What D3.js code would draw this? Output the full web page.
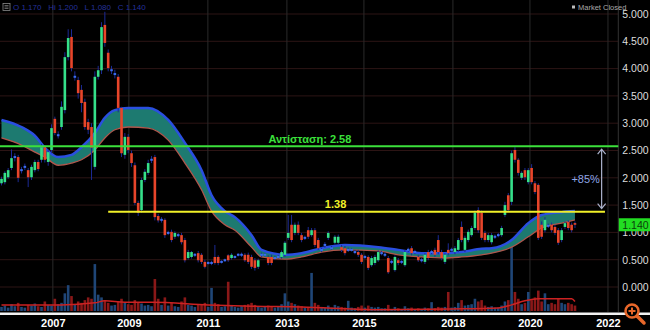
<!DOCTYPE html>
<html>
<head>
<meta charset="utf-8">
<script src="https://cdn.jsdelivr.net/npm/d3@7"></script>
<style>
  body { margin: 0; background: #000; }
  svg { display: block; font-family: "Liberation Sans", Arial, sans-serif; }
</style>
</head>
<body>
<div id="chart"></div>
<script>
// monthly candles, values in euro
const opens = [
  1.90,1.92,2.01,2.18,2.38,2.38,2.14,2.20,2.14,2.01,
  2.14,2.29,2.33,2.56,2.29,2.51,3.08,2.78,2.93,3.24,
  4.21,4.58,3.85,3.79,3.61,3.39,3.02,2.93,2.20,3.85,
  3.97,4.80,4.29,3.97,3.90,3.85,3.28,2.42,2.75,2.45,
  2.23,1.54,1.41,1.96,2.09,2.33,2.38,1.30,1.23,1.23,
  0.99,1.01,0.92,0.95,0.95,0.86,0.53,0.55,0.59,0.62,
  0.59,0.46,0.44,0.44,0.55,0.55,0.46,0.49,0.58,0.53,
  0.55,0.59,0.59,0.59,0.59,0.55,0.49,0.37,0.59,0.59,
  0.55,0.55,0.53,0.55,0.55,0.59,0.90,1.14,0.99,1.14,
  0.95,0.90,1.04,0.95,1.04,0.86,0.68,0.77,0.90,0.71,
  0.81,0.81,0.73,0.71,0.68,0.68,0.64,0.64,0.59,0.55,
  0.55,0.40,0.44,0.49,0.62,0.59,0.53,0.46,0.31,0.49,
  0.46,0.40,0.68,0.71,0.64,0.55,0.49,0.46,0.64,0.64,
  0.68,0.86,0.64,0.46,0.68,0.68,0.64,0.68,1.10,0.68,
  0.86,0.95,1.08,1.41,1.36,0.99,0.86,0.82,0.92,0.95,
  0.95,1.32,1.68,1.56,2.51,2.33,2.00,2.14,1.92,2.18,
  1.90,1.87,1.14,1.04,1.12,1.14,1.10,1.04,0.86,1.10,
  1.19,1.14,1.17];
const highs = [
  2.02,2.12,2.18,2.52,2.45,2.42,2.20,2.26,2.18,2.24,
  2.33,2.33,2.62,2.60,2.52,2.98,3.12,2.85,3.40,4.30,
  4.72,4.72,3.95,3.85,3.70,3.45,3.08,3.00,3.95,4.05,
  4.85,5.04,4.35,4.05,3.98,3.90,3.30,2.82,2.80,2.50,
  2.28,1.58,2.00,2.16,2.33,2.40,2.42,1.34,1.28,1.26,
  1.03,1.05,1.02,0.99,0.99,0.90,0.68,0.66,0.62,0.66,
  0.62,0.50,0.47,0.48,0.77,0.58,0.49,0.52,0.60,0.62,
  0.58,0.62,0.63,0.62,0.63,0.59,0.53,0.52,0.63,0.62,
  0.58,0.59,0.57,0.58,0.67,0.84,1.32,1.32,1.18,1.20,
  0.99,0.94,1.10,1.08,1.08,0.90,0.72,0.82,1.02,0.75,
  0.95,0.96,0.77,0.75,0.72,0.71,0.68,0.68,0.62,0.59,
  0.58,0.57,0.59,0.67,0.66,0.63,0.57,0.50,0.58,0.53,
  0.49,0.68,0.72,0.75,0.68,0.59,0.53,0.62,0.68,0.68,
  0.72,0.95,0.68,0.62,0.80,0.72,0.75,0.90,1.20,0.94,
  1.05,1.12,1.40,1.46,1.40,1.03,0.99,0.99,0.96,0.99,
  1.12,1.56,1.72,2.50,2.56,2.36,2.12,2.18,2.18,2.25,
  1.94,1.90,1.20,1.28,1.16,1.18,1.14,1.08,1.08,1.20,
  1.22,1.18,1.20];
const lows = [
  1.86,1.88,1.98,2.14,2.30,1.92,2.08,2.14,1.83,1.96,
  2.10,2.12,2.28,2.28,2.22,2.45,2.78,2.72,2.88,3.18,
  4.15,3.95,3.78,3.45,3.20,2.88,2.80,1.96,2.15,3.80,
  3.90,4.40,3.95,3.90,3.82,3.20,2.38,2.35,2.45,2.20,
  1.50,1.30,1.36,1.92,2.05,2.27,1.22,1.18,1.18,0.90,
  0.95,0.82,0.88,0.91,0.78,0.45,0.50,0.52,0.55,0.45,
  0.42,0.34,0.41,0.40,0.41,0.40,0.43,0.46,0.46,0.50,
  0.52,0.56,0.55,0.46,0.42,0.33,0.30,0.33,0.55,0.56,
  0.40,0.40,0.50,0.52,0.52,0.55,0.86,0.82,0.95,0.95,
  0.82,0.86,0.88,0.92,0.73,0.68,0.64,0.72,0.86,0.68,
  0.78,0.78,0.64,0.58,0.64,0.65,0.60,0.55,0.42,0.51,
  0.31,0.37,0.40,0.46,0.58,0.55,0.24,0.42,0.28,0.40,
  0.42,0.37,0.64,0.58,0.60,0.46,0.45,0.42,0.49,0.60,
  0.55,0.60,0.49,0.42,0.58,0.64,0.60,0.64,0.82,0.64,
  0.82,0.92,1.04,0.99,0.86,0.82,0.82,0.78,0.88,0.91,
  0.92,1.28,1.38,1.50,2.28,2.04,1.96,1.96,1.88,1.88,
  1.70,0.86,0.88,1.00,1.08,1.00,0.95,0.77,0.82,1.06,
  1.04,1.00,1.08];
const closes = [
  1.98,2.09,2.14,2.36,2.38,2.00,2.14,2.20,2.01,2.20,
  2.29,2.16,2.56,2.33,2.47,2.91,2.82,2.78,3.30,4.21,
  4.56,4.01,3.85,3.55,3.37,2.93,2.88,2.55,3.85,3.97,
  4.76,4.47,4.01,3.97,3.90,3.28,2.45,2.75,2.51,2.27,
  1.54,1.36,1.96,2.11,2.27,2.33,1.28,1.22,1.23,0.95,
  0.99,0.86,0.99,0.95,0.82,0.49,0.64,0.64,0.59,0.49,
  0.46,0.37,0.44,0.44,0.44,0.44,0.46,0.49,0.49,0.59,
  0.55,0.59,0.59,0.49,0.46,0.37,0.35,0.49,0.59,0.59,
  0.44,0.44,0.53,0.55,0.64,0.81,0.99,0.86,1.14,0.99,
  0.86,0.90,0.92,1.04,0.77,0.71,0.68,0.77,0.99,0.71,
  0.92,0.92,0.68,0.62,0.68,0.68,0.64,0.59,0.46,0.55,
  0.35,0.53,0.55,0.64,0.62,0.59,0.27,0.46,0.55,0.44,
  0.46,0.64,0.68,0.62,0.64,0.49,0.49,0.59,0.53,0.64,
  0.59,0.64,0.53,0.59,0.62,0.68,0.71,0.86,0.86,0.90,
  1.01,1.08,1.36,1.04,0.90,0.86,0.95,0.95,0.92,0.95,
  1.08,1.50,1.41,2.45,2.33,2.09,2.09,2.01,2.14,1.92,
  1.74,0.90,0.92,1.23,1.12,1.04,0.99,0.81,1.04,1.17,
  1.08,1.04,1.14];
// volume, arbitrary units (no scale shown)
const volumes = [
  6,8,5,10,7,12,6,5,9,8, 11,7,6,14,9,8,18,10,12,26,
  38,22,10,14,12,16,20,18,69,24, 20,16,12,8,9,14,18,12,10,9,
  16,12,11,8,9,7,47,18,9,20, 8,12,7,6,14,20,9,8,6,10,
  9,12,6,34,12,10,6,7,43,8, 6,5,7,9,10,12,9,7,5,6,
  8,7,5,6,10,26,14,12,10,8, 7,5,6,56,12,9,6,5,8,5,
  9,7,6,5,15,5,4,6,8,5, 8,6,5,6,4,4,9,3,6,4,
  3,7,4,5,3,4,3,5,4,13, 4,6,5,6,28,5,6,12,16,8,
  9,10,18,14,16,8,6,7,5,5, 8,14,16,100,28,18,10,12,28,16,
  20,30,14,26,10,12,10,18,12,10, 12,10,8];

// moving-average band (sampled at candle index)
const maIdx   = [0,6,10,13,17,21,24,28,31,34,38,44,50,55,60,63,67,70,75,78,85,90,96,103,113,119,126,133,138,144,147,153,158,162,168,172];
const maUpper = [3.06,2.93,2.77,2.55,2.38,2.42,2.56,2.82,3.10,3.24,3.28,3.28,3.06,2.64,2.14,1.68,1.39,1.28,0.95,0.68,0.59,0.62,0.71,0.77,0.73,0.68,0.62,0.62,0.64,0.70,0.71,0.86,1.17,1.32,1.37,1.39];
const maLower = [2.73,2.60,2.47,2.38,2.23,2.27,2.33,2.51,2.73,2.88,2.93,2.91,2.69,2.27,1.78,1.39,1.14,1.04,0.73,0.55,0.51,0.55,0.64,0.68,0.66,0.59,0.55,0.53,0.55,0.59,0.62,0.73,0.92,1.08,1.17,1.23];
// volume moving average
const volMaIdx = [0,18,28,31,37,45,62,75,90,112,135,149,153,157,161,171,172];
const volMa    = [9,9,12,15,13,13,9,7,6,2,3,4.5,9,15,18,18,14];

const xTickLabels = ["2007","2009","2011","2013","2015","2018","2020","2022"];
const xTickIdx = [15.4, 38.2, 61.9, 85.6, 108.7, 135.4, 158.5, 181.9];
const yTicks = [0,0.5,1,1.5,2,2.5,3,3.5,4,4.5,5];

const resistance = 2.58, support = 1.38, lastPrice = 1.14;
const supportFrom = 32, supportTo = 181, arrowIdx = 180;
const legendText = "O 1.170   Hi 1.200   L 1.080   C 1.140";

const W = 650, H = 330;
const svg = d3.select("#chart").append("svg").attr("width", W).attr("height", H);
svg.append("rect").attr("width", W).attr("height", H).attr("fill", "#000");

const x = d3.scaleLinear().domain([0, 185]).range([1.5, 618.3]);
const y = d3.scaleLinear().domain([0, 5]).range([287, 14]);
const yVol = d3.scaleLinear().domain([0, 100]).range([311, 243]);
const plotRight = x(185);

// grid
svg.append("g").selectAll("line").data(yTicks).join("line")
  .attr("x1", 0).attr("x2", plotRight)
  .attr("y1", d => y(d)).attr("y2", d => y(d))
  .attr("stroke", "#2c1414").attr("stroke-width", 1);
svg.append("g").selectAll("line").data(xTickIdx).join("line")
  .attr("x1", d => x(d)).attr("x2", d => x(d))
  .attr("y1", 0).attr("y2", 312)
  .attr("stroke", "#2a2a2a").attr("stroke-width", 1);
svg.append("line").attr("x1", plotRight).attr("x2", plotRight)
  .attr("y1", 0).attr("y2", 312).attr("stroke", "#333").attr("stroke-width", 1);

const candles = opens.map((o, i) => ({i, o, h: highs[i], l: lows[i], c: closes[i], v: volumes[i]}));

// volume
svg.append("g").selectAll("rect").data(candles).join("rect")
  .attr("x", d => x(d.i) - 1.3).attr("width", 2.6)
  .attr("y", d => yVol(d.v)).attr("height", d => yVol(0) - yVol(d.v))
  .attr("fill", d => d.c >= d.o ? "#1f4677" : "#8a1818");
svg.append("path")
  .datum(volMaIdx.map((d, k) => [d, volMa[k]]))
  .attr("fill", "none").attr("stroke", "#cc2222").attr("stroke-width", 1.5)
  .attr("d", d3.line().x(d => x(d[0])).y(d => yVol(d[1])).curve(d3.curveMonotoneX));

// MA band
const band = maIdx.map((d, k) => ({i: d, u: maUpper[k], lo: maLower[k]}));
svg.append("path").datum(band)
  .attr("fill", "#1d7a70")
  .attr("d", d3.area().x(d => x(d.i)).y0(d => y(d.lo)).y1(d => y(d.u)).curve(d3.curveMonotoneX));
svg.append("path").datum(band)
  .attr("fill", "none").attr("stroke", "#b0564c").attr("stroke-width", 1.3)
  .attr("d", d3.line().x(d => x(d.i)).y(d => y(d.lo)).curve(d3.curveMonotoneX));
svg.append("path").datum(band)
  .attr("fill", "none").attr("stroke", "#2a4fe0").attr("stroke-width", 2.5)
  .attr("d", d3.line().x(d => x(d.i)).y(d => y(d.u)).curve(d3.curveMonotoneX));

// candles
const cg = svg.append("g");
cg.selectAll("line").data(candles).join("line")
  .attr("x1", d => x(d.i)).attr("x2", d => x(d.i))
  .attr("y1", d => y(d.h)).attr("y2", d => y(d.l))
  .attr("stroke", "#1c2a94").attr("stroke-width", 1);
cg.selectAll("rect").data(candles).join("rect")
  .attr("x", d => x(d.i) - 1.3).attr("width", 2.6)
  .attr("y", d => d.o === d.c ? y(d.c) - 1 : y(Math.max(d.o, d.c)))
  .attr("height", d => d.o === d.c ? 2 : Math.max(1.5, Math.abs(y(d.o) - y(d.c))))
  .attr("fill", d => d.o === d.c ? "#3a6cf0" : (d.c > d.o ? "#35e08a" : "#e8452a"));

// resistance / support
svg.append("line").attr("x1", 0).attr("x2", plotRight)
  .attr("y1", y(resistance)).attr("y2", y(resistance))
  .attr("stroke", "#3be03b").attr("stroke-width", 2);
svg.append("text").attr("x", x(92.5)).attr("y", y(resistance) - 3)
  .attr("text-anchor", "middle").attr("font-size", 11).attr("font-weight", "bold")
  .attr("fill", "#3be03b").text("Αντίσταση: " + resistance.toFixed(2));
svg.append("line").attr("x1", x(supportFrom)).attr("x2", x(supportTo))
  .attr("y1", y(support)).attr("y2", y(support))
  .attr("stroke", "#f0f028").attr("stroke-width", 2);
svg.append("text").attr("x", x(100.2)).attr("y", y(support) - 4)
  .attr("text-anchor", "middle").attr("font-size", 11).attr("font-weight", "bold")
  .attr("fill", "#f0f028").text(support.toFixed(2));

// % arrow
const ax = x(arrowIdx), aTop = y(resistance) + 3, aBot = y(support) - 3;
svg.append("path")
  .attr("d", `M${ax},${aTop}V${aBot}M${ax - 4},${aTop + 5}L${ax},${aTop}L${ax + 4},${aTop + 5}M${ax - 4},${aBot - 5}L${ax},${aBot}L${ax + 4},${aBot - 5}`)
  .attr("fill", "none").attr("stroke", "#aab2cc").attr("stroke-width", 1.2);
svg.append("text").attr("x", x(175.2)).attr("y", (aTop + aBot) / 2 + 4)
  .attr("text-anchor", "middle").attr("font-size", 11).attr("fill", "#8ea6e8").text("+85%");

// y axis
const yAxis = svg.append("g").attr("transform", `translate(${plotRight + 1},0)`)
  .call(d3.axisRight(y).tickValues(yTicks).tickFormat(d3.format(".3f")).tickSize(0).tickPadding(3));
yAxis.select(".domain").remove();
yAxis.selectAll("text").attr("fill", "#dddddd").attr("font-size", 10.5)
  .attr("font-family", "Liberation Sans, Arial, sans-serif");

// last price badge
svg.append("rect").attr("x", plotRight + 0.5).attr("y", y(lastPrice) - 6.5)
  .attr("width", W - plotRight).attr("height", 13).attr("fill", "#22dd22");
svg.append("text").attr("x", plotRight + 4).attr("y", y(lastPrice) + 4)
  .attr("font-size", 10.5).attr("fill", "#0b3d0b").text(lastPrice.toFixed(3));

// bottom separator + x axis
svg.append("rect").attr("x", 0).attr("y", 312.5).attr("width", W).attr("height", 2.5).attr("fill", "#f2f2f2");
const xAxis = svg.append("g").attr("transform", "translate(0,316)")
  .call(d3.axisBottom(x).tickValues(xTickIdx).tickFormat((d, k) => xTickLabels[k]).tickSize(0).tickPadding(3));
xAxis.select(".domain").remove();
xAxis.selectAll("text").attr("fill", "#ffffff").attr("font-size", 11).attr("font-weight", "bold")
  .attr("font-family", "Liberation Sans, Arial, sans-serif");

// zoom icon
const zi = svg.append("g").attr("stroke", "#e8672a").attr("fill", "none");
zi.append("line").attr("x1", 637).attr("y1", 316).attr("x2", 644).attr("y2", 323).attr("stroke-width", 3.5).attr("stroke-linecap", "round");
zi.append("circle").attr("cx", 632).attr("cy", 311).attr("r", 6.5).attr("fill", "#000").attr("stroke-width", 2.5);
zi.append("path").attr("d", "M628.5,311H635.5M632,307.5V314.5").attr("stroke-width", 2);

// top legend
svg.append("rect").attr("x", 3).attr("y", 3.5).attr("width", 7).attr("height", 7)
  .attr("fill", "none").attr("stroke", "#888").attr("stroke-width", 0.8);
svg.append("path").attr("d", "M4.5,5.5H8.5M4.5,7H8.5M4.5,8.5H8.5").attr("stroke", "#888").attr("stroke-width", 0.7);
svg.append("text").attr("x", 13).attr("y", 10).attr("font-size", 8)
  .style("white-space", "pre").attr("fill", "#24309a").text(legendText);
svg.append("rect").attr("x", 572).attr("y", 5.5).attr("width", 3).attr("height", 3).attr("fill", "#bbb");
svg.append("text").attr("x", 578).attr("y", 9.5).attr("font-size", 7.5).attr("fill", "#aaaaaa").text("Market Closed");
</script>
</body>
</html>
